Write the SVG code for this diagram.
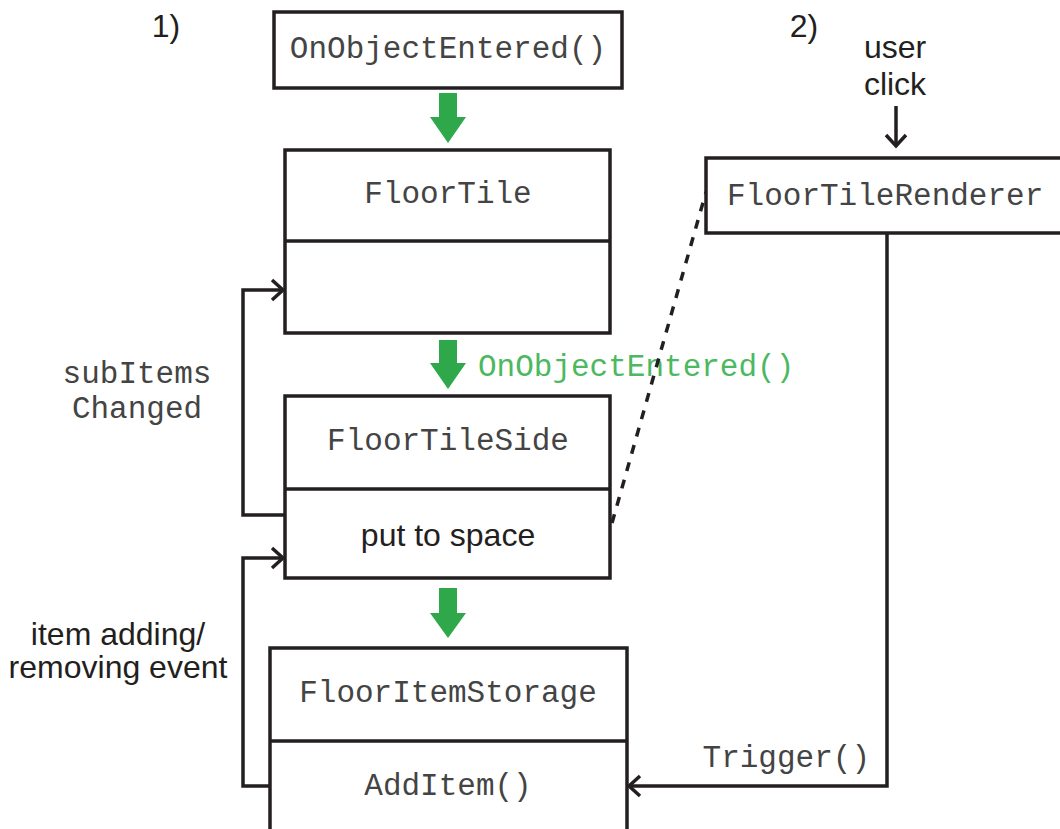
<svg xmlns="http://www.w3.org/2000/svg" width="1060" height="829" viewBox="0 0 1060 829">
<style>
.box{fill:#fff;stroke:#231f20;stroke-width:3.5}
.ln{fill:none;stroke:#231f20;stroke-width:3.5}
.mono{font-family:"Liberation Mono","Courier New",monospace;font-size:31px;fill:#444}
.sans{font-family:"Liberation Sans",Arial,sans-serif;font-size:32px;fill:#231f20}
.garrow{fill:#2ea84a}
.gtext{font-family:"Liberation Mono","Courier New",monospace;font-size:31px;fill:#4cb860}
</style>
<defs>
<marker id="open" markerUnits="userSpaceOnUse" markerWidth="20" markerHeight="24" refX="13" refY="12" orient="auto">
<path d="M2,2 L13,12 L2,22" fill="none" stroke="#231f20" stroke-width="3.5"/>
</marker>
</defs>
<g id="labels">
<text class="sans" x="166" y="37" text-anchor="middle">1)</text>
<text class="sans" x="804" y="37" text-anchor="middle">2)</text>
<text class="sans" x="895" y="58" text-anchor="middle">user</text>
<text class="sans" x="895" y="95" text-anchor="middle">click</text>
<text class="mono" x="137" y="383" text-anchor="middle">subItems</text>
<text class="mono" x="137" y="418" text-anchor="middle">Changed</text>
<text class="sans" x="118" y="645" text-anchor="middle">item adding/</text>
<text class="sans" x="118" y="678" text-anchor="middle">removing event</text>
<text class="mono" x="870" y="767" text-anchor="end">Trigger()</text>
<text class="gtext" x="478" y="376">OnObjectEntered()</text>
</g>
<g id="connectors">
<path class="ln" d="M285,515 H243 V290 H283" marker-end="url(#open)"/>
<path class="ln" d="M270,786 H243 V558 H283" marker-end="url(#open)"/>
<path class="ln" d="M887,233 V786 H629" marker-end="url(#open)"/>
<path class="ln" d="M896,106 V146" marker-end="url(#open)"/>
<path d="M612,523 L706,192" fill="none" stroke="#231f20" stroke-width="3.5" stroke-dasharray="9,9"/>
<polygon class="garrow" points="439,93 457,93 457,117 466,117 448,143 430,117 439,117"/>
<polygon class="garrow" points="439,340 457,340 457,363 466,363 448,389 430,363 439,363"/>
<polygon class="garrow" points="439,588 457,588 457,613 466,613 448,638 430,613 439,613"/>
</g>
<g id="node-onobjectentered">
<rect class="box" x="274" y="12" width="348" height="76"/>
<text class="mono" x="448" y="58" text-anchor="middle">OnObjectEntered()</text>
</g>
<g id="node-floortile">
<rect class="box" x="285" y="150" width="325" height="183"/>
<line class="ln" x1="285" y1="241" x2="610" y2="241"/>
<text class="mono" x="448" y="203" text-anchor="middle">FloorTile</text>
</g>
<g id="node-floortileside">
<rect class="box" x="285" y="396" width="325" height="182"/>
<line class="ln" x1="285" y1="489" x2="610" y2="489"/>
<text class="mono" x="448" y="450" text-anchor="middle">FloorTileSide</text>
<text class="sans" x="448" y="546" text-anchor="middle">put to space</text>
</g>
<g id="node-flooritemstorage">
<rect class="box" x="270" y="648" width="357" height="200"/>
<line class="ln" x1="270" y1="741" x2="627" y2="741"/>
<text class="mono" x="448" y="702" text-anchor="middle">FloorItemStorage</text>
<text class="mono" x="448" y="795" text-anchor="middle">AddItem()</text>
</g>
<g id="node-floortilerenderer">
<rect class="box" x="706" y="158" width="370" height="75"/>
<text class="mono" x="727" y="205">FloorTileRenderer</text>
</g>
</svg>
